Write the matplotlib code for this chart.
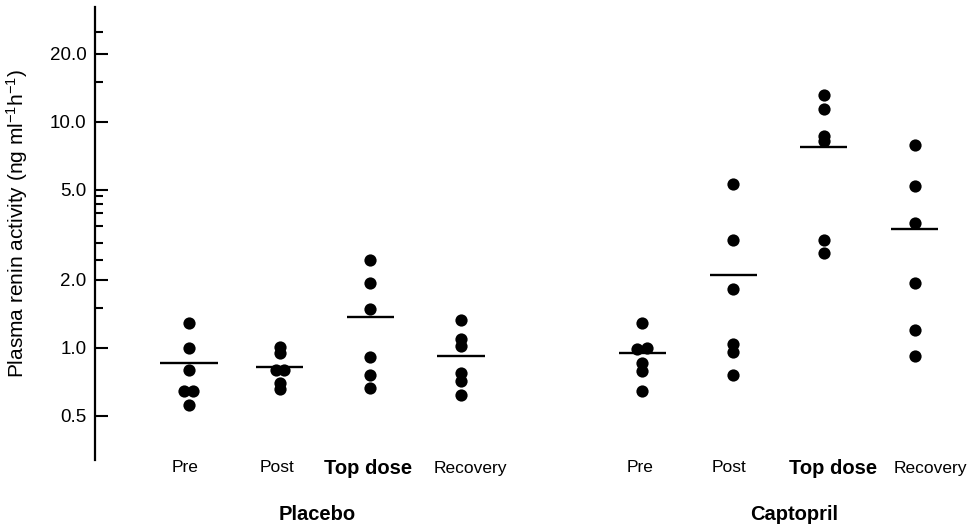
import matplotlib
matplotlib.use("Agg")
import matplotlib.pyplot as plt
import numpy as np

plt.rcParams['font.family'] = ['Liberation Sans', 'DejaVu Sans']
plt.rcParams['mathtext.fontset'] = 'custom'
plt.rcParams['mathtext.rm'] = 'Liberation Sans'
plt.rcParams['mathtext.it'] = 'Liberation Sans:italic'
plt.rcParams['mathtext.bf'] = 'Liberation Sans:bold'

# ---- data ----
treatments = ["Placebo", "Captopril"]
phases = ["Pre", "Post", "Top dose", "Recovery"]

placebo_pre = [1.29, 1.00, 0.80, 0.645, 0.645, 0.555]
placebo_post = [1.01, 0.95, 0.80, 0.80, 0.70, 0.655]
placebo_top = [2.45, 1.93, 1.48, 0.907, 0.76, 0.663]
placebo_rec = [1.33, 1.09, 1.02, 0.77, 0.71, 0.617]

captopril_pre = [1.29, 1.00, 0.985, 0.853, 0.79, 0.645]
captopril_post = [5.31, 3.00, 1.815, 1.04, 0.96, 0.757]
captopril_top = [13.2, 11.4, 8.7, 8.2, 3.00, 2.62]
captopril_rec = [7.9, 5.2, 3.58, 1.93, 1.20, 0.92]

placebo_means = [0.853, 0.819, 1.368, 0.922]
captopril_means = [0.944, 2.10, 7.73, 3.35]

# small horizontal offsets for touching dots (category units)
placebo_offsets = [
    [0, 0, 0, -0.05, 0.05, 0],
    [0, 0, -0.045, 0.045, 0, 0],
    [0, 0, 0, 0, 0, 0],
    [0, 0, 0, 0, 0, 0],
]
captopril_offsets = [
    [0, 0.045, -0.065, 0, 0, 0],
    [0, 0, 0, 0, 0, 0],
    [0, 0, 0, 0, 0, 0],
    [0, 0, 0, 0, 0, 0],
]

major_ticks = [0.5, 1.0, 2.0, 5.0, 10.0, 20.0]
major_labels = ["0.5", "1.0", "2.0", "5.0", "10.0", "20.0"]
minor_ticks = [1.5, 2.45, 2.9, 3.45, 3.95, 4.35, 4.7, 15, 25]

# ---- figure ----
W, H = 978, 526
fig = plt.figure(figsize=(W / 100, H / 100), dpi=100)
ax = fig.add_axes([95 / W, 1 - 460 / H, (W - 95) / W, (460 - 7) / H])
ax.set_yscale('log')
ax.set_ylim(0.318, 32.3)
ax.set_xlim(-1.036, 8.70)

group_x = [[0, 1, 2, 3], [5, 6, 7, 8]]
group_vals = [[placebo_pre, placebo_post, placebo_top, placebo_rec],
              [captopril_pre, captopril_post, captopril_top, captopril_rec]]
group_offsets = [placebo_offsets, captopril_offsets]
group_means = [placebo_means, captopril_means]
group_label_x = [1.41, 6.67]   # layout: centre of the group names
phase_label_dx = [[-0.04, -0.03, -0.03, 0.1], [-0.03, -0.04, 0.1, 0.18]]  # layout nudges

half = 0.26
for gi, (gx, gv, go, gm) in enumerate(zip(group_x, group_vals, group_offsets, group_means)):
    for k, (x, vals, offs, m) in enumerate(zip(gx, gv, go, gm)):
        xs = np.array(offs) + x
        ax.plot(xs, vals, 'o', color='black', markersize=8.8, markeredgewidth=0, zorder=3)
        hw = 0.32 if (gi == 0 and k == 0) else half
        ax.plot([x - hw, x + hw], [m, m], color='black', lw=1.7, solid_capstyle='butt', zorder=2)

for s in ['top', 'right', 'bottom']:
    ax.spines[s].set_visible(False)
ax.spines['left'].set_linewidth(1.6)
ax.set_xticks([])
ax.yaxis.set_major_locator(matplotlib.ticker.FixedLocator(major_ticks))
ax.yaxis.set_major_formatter(matplotlib.ticker.FixedFormatter(major_labels))
ax.yaxis.set_minor_locator(matplotlib.ticker.FixedLocator(minor_ticks))
ax.yaxis.set_minor_formatter(matplotlib.ticker.NullFormatter())
ax.tick_params(axis='y', which='major', direction='in', length=9, width=1.5, labelsize=13.5, pad=6)
ax.tick_params(axis='y', which='minor', direction='in', length=6, width=1.5)
ax.patch.set_alpha(0)

fig.text(17.5 / W, 1 - 223 / H, r'Plasma renin activity (ng ml$^{-1}$h$^{-1}$)',
         rotation=90, ha='center', va='center', fontsize=15)

# category labels
for gx, dxs in zip(group_x, phase_label_dx):
    for x, ph, dx in zip(gx, phases, dxs):
        bold = ph == "Top dose"
        xf = ax.transData.transform((x + dx, 1))[0] / W
        fig.text(xf, 1 - 468 / H, ph, ha='center', va='center',
                 fontsize=14.5 if bold else 12.5, fontweight='bold' if bold else 'normal')

for xc, name in zip(group_label_x, treatments):
    xf = ax.transData.transform((xc, 1))[0] / W
    fig.text(xf, 1 - 515 / H, name, ha='center', va='center', fontsize=14.5, fontweight='bold')

fig.savefig('out.png', dpi=100)
